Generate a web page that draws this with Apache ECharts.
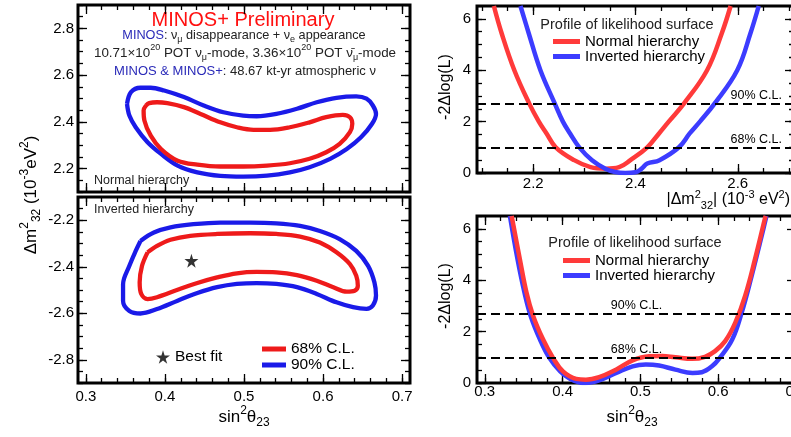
<!DOCTYPE html>
<html><head><meta charset="utf-8">
<script src="https://cdn.jsdelivr.net/npm/echarts@6/dist/echarts.min.js"></script>
<style>html,body{margin:0;padding:0;background:#fff}#c{width:791px;height:437px}</style>
</head><body><div id="c"></div>
<script>
const FONT = '"Liberation Sans", Arial, Helvetica, sans-serif';

const nh90 = [[0.352,2.477],[0.357,2.527],[0.369,2.546],[0.382,2.546],[0.399,2.534],[0.424,2.506],[0.449,2.470],[0.474,2.441],[0.499,2.427],[0.516,2.424],[0.541,2.434],[0.567,2.456],[0.592,2.484],[0.617,2.503],[0.642,2.509],[0.655,2.499],[0.663,2.470],[0.667,2.434],[0.662,2.392],[0.648,2.334],[0.630,2.284],[0.609,2.242],[0.583,2.206],[0.558,2.184],[0.529,2.170],[0.499,2.166],[0.470,2.169],[0.441,2.184],[0.416,2.213],[0.395,2.263],[0.378,2.313],[0.363,2.377],[0.355,2.427],[0.352,2.477]];
const nh68 = [[0.376,2.470],[0.380,2.480],[0.390,2.484],[0.403,2.480],[0.424,2.463],[0.445,2.434],[0.470,2.398],[0.491,2.377],[0.512,2.366],[0.533,2.366],[0.558,2.377],[0.583,2.398],[0.604,2.420],[0.625,2.430],[0.634,2.420],[0.637,2.392],[0.634,2.356],[0.621,2.306],[0.604,2.270],[0.583,2.242],[0.558,2.223],[0.529,2.213],[0.499,2.209],[0.470,2.209],[0.441,2.217],[0.416,2.234],[0.395,2.284],[0.382,2.341],[0.374,2.406],[0.373,2.449],[0.376,2.470]];
const ih90 = [[0.369,-2.289],[0.386,-2.253],[0.407,-2.231],[0.436,-2.217],[0.470,-2.210],[0.508,-2.210],[0.541,-2.213],[0.571,-2.224],[0.596,-2.246],[0.621,-2.281],[0.642,-2.332],[0.657,-2.396],[0.665,-2.467],[0.667,-2.524],[0.663,-2.567],[0.655,-2.581],[0.638,-2.574],[0.617,-2.553],[0.592,-2.517],[0.567,-2.488],[0.541,-2.474],[0.516,-2.470],[0.491,-2.474],[0.466,-2.488],[0.441,-2.513],[0.416,-2.546],[0.390,-2.582],[0.369,-2.601],[0.355,-2.590],[0.347,-2.547],[0.347,-2.475],[0.355,-2.396],[0.363,-2.332],[0.369,-2.289]];
const ih68 = [[0.378,-2.338],[0.390,-2.310],[0.407,-2.284],[0.432,-2.267],[0.466,-2.259],[0.508,-2.256],[0.541,-2.259],[0.571,-2.270],[0.596,-2.296],[0.617,-2.338],[0.634,-2.389],[0.642,-2.439],[0.644,-2.482],[0.640,-2.503],[0.630,-2.507],[0.613,-2.488],[0.592,-2.460],[0.567,-2.436],[0.541,-2.424],[0.516,-2.422],[0.491,-2.428],[0.466,-2.446],[0.441,-2.470],[0.416,-2.499],[0.390,-2.531],[0.378,-2.539],[0.370,-2.517],[0.368,-2.467],[0.371,-2.396],[0.378,-2.338]];
const bestFit = [[0.4335,-2.374]];

const profDmNH = [[2.123,6.5],[2.138,5.45],[2.163,4.0],[2.192,2.71],[2.211,2.0],[2.226,1.54],[2.244,1.0],[2.280,0.5],[2.312,0.23],[2.342,0.17],[2.368,0.23],[2.390,0.5],[2.423,1.0],[2.446,1.54],[2.465,2.0],[2.495,2.71],[2.540,4.0],[2.569,5.45],[2.586,6.5]];
const profDmIH = [[2.175,6.5],[2.191,5.45],[2.214,4.0],[2.242,2.71],[2.258,2.0],[2.272,1.54],[2.290,1.0],[2.315,0.5],[2.341,0.17],[2.360,0.04],[2.380,0.0],[2.400,0.03],[2.412,0.17],[2.423,0.37],[2.447,0.5],[2.485,1.0],[2.506,1.54],[2.526,2.0],[2.555,2.71],[2.599,4.0],[2.625,5.45],[2.641,6.5]];
const profThNH = [[0.3345,6.5],[0.345,4.83],[0.3536,3.52],[0.3622,2.61],[0.375,1.69],[0.3877,0.98],[0.4005,0.45],[0.4175,0.16],[0.430,0.13],[0.447,0.23],[0.4686,0.52],[0.490,0.88],[0.511,1.04],[0.528,1.05],[0.545,1.0],[0.5665,0.94],[0.583,1.02],[0.596,1.24],[0.609,1.63],[0.622,2.35],[0.6346,3.39],[0.6474,4.83],[0.660,6.39],[0.661,6.5]];
const profThIH = [[0.3323,6.5],[0.342,4.83],[0.351,3.52],[0.359,2.61],[0.371,1.69],[0.383,0.98],[0.397,0.45],[0.410,0.15],[0.422,0.02],[0.430,0.0],[0.447,0.1],[0.469,0.39],[0.490,0.65],[0.507,0.72],[0.524,0.68],[0.545,0.52],[0.567,0.39],[0.579,0.42],[0.592,0.65],[0.602,0.98],[0.618,1.69],[0.630,2.72],[0.643,4.17],[0.656,5.74],[0.662,6.5]];

const clLevels = [2.71, 1.0];
const clLabels = ['90% C.L.', '68% C.L.'];

const ticksSin = [0.3, 0.4, 0.5, 0.6, 0.7];
const ticksDmNH = [2.2, 2.4, 2.6, 2.8];
const ticksDmIH = [-2.8, -2.6, -2.4, -2.2];
const ticksDmAbs = [2.2, 2.4, 2.6];
const ticksLL = [0, 2, 4, 6];
const range = (a, b, s) => { const r = []; for (let i = 0; a + i * s <= b + 1e-9; i++) r.push(+(a + i * s).toFixed(4)); return r; };
const minSin = range(0.30, 0.70, 0.02);
const minDmNH = range(2.10, 2.90, 0.05);
const minDmIH = range(-2.90, -2.10, 0.05);
const minDmAbs = range(2.10, 2.70, 0.05);
const minLL = range(0, 6.5, 0.5);

const RED_C = '#ee1a1a', BLUE_C = '#1a1ae8';
const RED_P = '#ff3a3a', BLUE_P = '#3c3cff';
const STAR = 'path://M50,0 L61,35 L98,35 L68,57 L79,91 L50,70 L21,91 L32,57 L2,35 L39,35 Z';

const grids = [
  {left: 78, top: 5, width: 332, height: 187},
  {left: 78, top: 197, width: 332, height: 186},
  {left: 477, top: 6, width: 317, height: 167},
  {left: 477, top: 216, width: 319, height: 167}
].map(g => Object.assign({show: true, borderColor: '#000', borderWidth: 3, backgroundColor: 'transparent', containLabel: false, outerBoundsMode: 'none'}, g));

function makeAxes(dim, gi, min, max, majors, minors, labelOpt) {
  const pos = dim === 'x' ? ['bottom', 'top'] : ['left', 'right'];
  const base = {type: 'value', gridIndex: gi, min: min, max: max,
    axisLine: {show: false, onZero: false}, splitLine: {show: false}, axisPointer: {show: false}};
  const mk = (p, vals, len, lbl) => Object.assign({}, base, {
    position: p,
    axisTick: {show: true, inside: true, length: len, customValues: vals, lineStyle: {color: '#000', width: 1.3}},
    axisLabel: lbl ? Object.assign({show: true, customValues: vals, color: '#000', fontSize: 15, fontFamily: FONT}, labelOpt) : {show: false}
  });
  return [mk(pos[0], majors, 9, !!labelOpt), mk(pos[0], minors, 5, false), mk(pos[1], majors, 9, false), mk(pos[1], minors, 5, false)];
}
const f1 = v => v.toFixed(1), f0 = v => v.toFixed(0);

const xAxis = [].concat(
  makeAxes('x', 0, 0.29, 0.71, ticksSin, minSin, null),
  makeAxes('x', 1, 0.29, 0.71, ticksSin, minSin, {formatter: f1, margin: 6}),
  makeAxes('x', 2, 2.09, 2.71, ticksDmAbs, minDmAbs, {formatter: f1, margin: 3}),
  makeAxes('x', 3, 0.29, 0.70, ticksSin, minSin, {formatter: f1, margin: 1})
);
const yAxis = [].concat(
  makeAxes('y', 0, 2.1, 2.9, ticksDmNH, minDmNH, {formatter: f1, margin: 4}),
  makeAxes('y', 1, -2.9, -2.1, ticksDmIH, minDmIH, {formatter: f1, margin: 4}),
  makeAxes('y', 2, 0, 6.5, ticksLL, minLL, {formatter: f0, margin: 6}),
  makeAxes('y', 3, 0, 6.5, ticksLL, minLL, {formatter: f0, margin: 6})
);

function contour(name, data, gi, color) {
  return {type: 'line', name: name, data: data, xAxisIndex: gi * 4, yAxisIndex: gi * 4,
    showSymbol: false, smooth: 0.35, lineStyle: {color: color, width: 4.3}, itemStyle: {color: color}, silent: true, animation: false};
}
function clMarks(pos, dist) {
  return {silent: true, symbol: ['none', 'none'], animation: false,
    lineStyle: {color: '#000', type: [9, 5], width: 2},
    label: {show: true, position: pos, color: '#000', fontSize: 12.5, fontFamily: FONT, distance: dist, formatter: p => p.name},
    data: clLevels.map((v, i) => ({yAxis: v, name: clLabels[i]}))};
}
function profile(name, data, gi, color, marks) {
  const s = {type: 'line', name: name, data: data, xAxisIndex: gi * 4, yAxisIndex: gi * 4,
    showSymbol: false, smooth: 0.4, lineStyle: {color: color, width: 4.5}, itemStyle: {color: color}, silent: true, animation: false};
  if (marks) s.markLine = marks;
  return s;
}

const series = [
  contour('90% C.L.', nh90, 0, BLUE_C),
  contour('68% C.L.', nh68, 0, RED_C),
  contour('90% C.L.', ih90, 1, BLUE_C),
  contour('68% C.L.', ih68, 1, RED_C),
  {type: 'scatter', name: 'Best fit', data: bestFit, xAxisIndex: 4, yAxisIndex: 4, symbol: STAR, symbolSize: 14, itemStyle: {color: '#000'}, silent: true, animation: false},
  profile('Normal hierarchy', profDmNH, 2, RED_P, clMarks('insideEndTop', [12, 1])),
  profile('Inverted hierarchy', profDmIH, 2, BLUE_P, null),
  profile('Inverted hierarchy', profThIH, 3, BLUE_P, clMarks('insideMiddleTop', 1)),
  profile('Normal hierarchy', profThNH, 3, RED_P, null)
];

const legTxt = {color: '#000', fontFamily: FONT};
const legend = [
  {data: ['68% C.L.', '90% C.L.'], left: 262, top: 341, orient: 'vertical', icon: 'rect', itemWidth: 24, itemHeight: 5, itemGap: 0, selectedMode: false, padding: 0,
    textStyle: Object.assign({fontSize: 15.5, lineHeight: 16}, legTxt)},
  {data: [{name: 'Best fit', icon: STAR}], left: 156, top: 349, itemWidth: 14, itemHeight: 14, selectedMode: false, padding: 0,
    textStyle: Object.assign({fontSize: 15.5}, legTxt)},
  {data: ['Normal hierarchy', 'Inverted hierarchy'], left: 553, top: 34, orient: 'vertical', icon: 'rect', itemWidth: 27, itemHeight: 5, itemGap: 0, selectedMode: false, padding: 0,
    textStyle: Object.assign({fontSize: 15, lineHeight: 13}, legTxt)},
  {data: ['Normal hierarchy', 'Inverted hierarchy'], left: 563, top: 253, orient: 'vertical', icon: 'rect', itemWidth: 27, itemHeight: 5, itemGap: 0, selectedMode: false, padding: 0,
    textStyle: Object.assign({fontSize: 15, lineHeight: 13}, legTxt)}
];

function rtext(x, y, text, size, opts) {
  opts = opts || {};
  const fill = opts.fill || '#222';
  const ss = Math.round(size * 0.68);
  const lh = opts.lh || Math.round(size * 1.45);
  return {type: 'text', x: x, y: y, rotation: opts.rot || 0, silent: true,
    style: {text: text, font: size + 'px ' + FONT, fill: fill, align: opts.align || 'center', verticalAlign: 'middle', lineHeight: lh,
      rich: {
        s: {fontSize: ss, lineHeight: 10, verticalAlign: 'bottom', fontFamily: FONT, fill: fill},
        p: {fontSize: ss, lineHeight: 10, verticalAlign: 'top', fontFamily: FONT, fill: fill},
        b: {fill: '#2a2ab8', fontSize: size, fontFamily: FONT, lineHeight: lh}
      }}};
}

const graphic = [
  {type: 'text', x: 243, y: 20, silent: true, style: {text: 'MINOS+ Preliminary', font: '20px ' + FONT, fill: '#ff1010', align: 'center', verticalAlign: 'middle'}},
  rtext(244, 35, '{b|MINOS}: ν{s|μ} disappearance + ν{s|e} appearance', 12.7),
  rtext(245, 53, '10.71×10{p|20} POT ν{s|μ}-mode, 3.36×10{p|20} POT ν\u0304{s|μ}-mode', 13.4),
  rtext(245, 71, '{b|MINOS & MINOS+}: 48.67 kt-yr atmospheric ν', 13),
  rtext(94, 181, 'Normal hierarchy', 12.5, {align: 'left'}),
  rtext(94, 210, 'Inverted hierarchy', 12.5, {align: 'left'}),
  rtext(31, 195, 'Δm{p|2}{s|32} (10{p|-3}eV{p|2})', 17, {rot: Math.PI / 2, fill: '#000', lh: 24}),
  rtext(244, 417, 'sin{p|2}θ{s|23}', 17, {fill: '#000', lh: 24}),
  rtext(790, 200, '|Δm{p|2}{s|32}| (10{p|-3} eV{p|2})', 16, {align: 'right', fill: '#000', lh: 22}),
  rtext(446, 87, '-2Δlog(L)', 16, {rot: Math.PI / 2, fill: '#000'}),
  rtext(446, 296, '-2Δlog(L)', 16, {rot: Math.PI / 2, fill: '#000'}),
  rtext(632, 417, 'sin{p|2}θ{s|23}', 17, {fill: '#000', lh: 24}),
  rtext(627, 25, 'Profile of likelihood surface', 14.5, {fill: '#222'}),
  rtext(635, 243, 'Profile of likelihood surface', 14.5, {fill: '#222'})
];

const chart = echarts.init(document.getElementById('c'), null, {renderer: 'canvas'});
chart.setOption({animation: false, backgroundColor: '#fff', grid: grids, xAxis: xAxis, yAxis: yAxis, series: series, legend: legend, graphic: graphic});
</script></body></html>
